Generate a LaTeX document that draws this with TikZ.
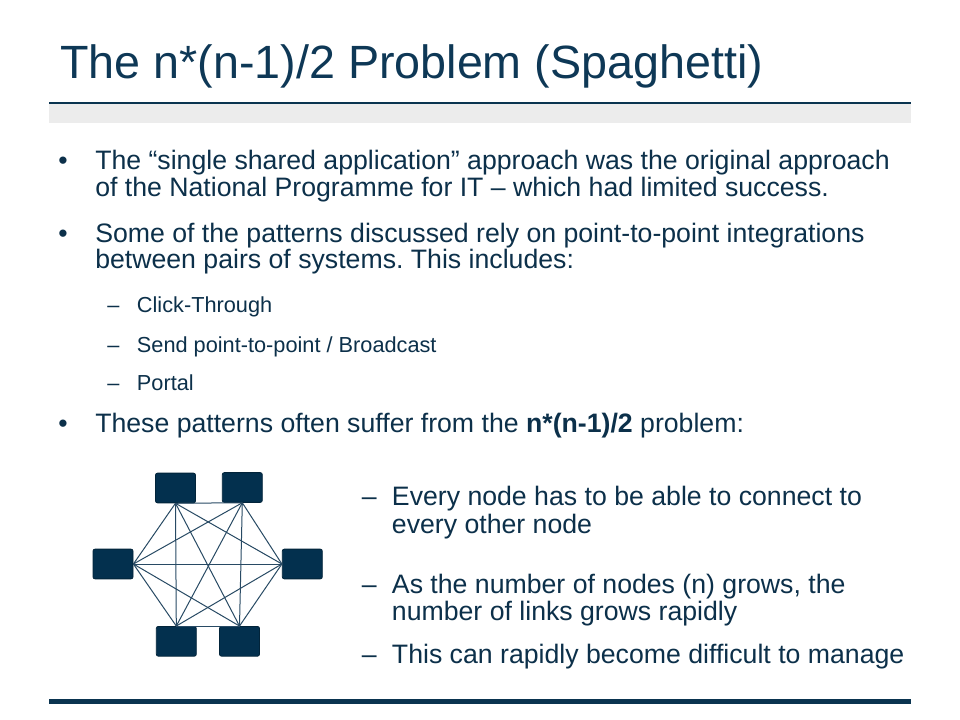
\documentclass[tikz,border=0pt]{standalone}
\usepackage{fontspec}
\setmainfont{Liberation Sans}
\frenchspacing
\definecolor{txt}{RGB}{12,48,74}
\definecolor{ttl}{RGB}{14,56,86}
\definecolor{boxc}{RGB}{3,48,78}
\definecolor{edgec}{RGB}{40,74,100}
\definecolor{band}{RGB}{236,236,236}
\definecolor{rule}{RGB}{10,52,80}
\begin{document}
\begin{tikzpicture}[x=0.75pt,y=-0.75pt,
  txtline/.style={anchor=base west, inner sep=0pt, text=txt, font=\fontsize{20}{24}\selectfont},
  subline/.style={anchor=base west, inner sep=0pt, text=txt, font=\fontsize{16.3}{20}\selectfont},
  sysbox/.style={draw=boxc!75!black, fill=boxc, rounded corners=1.5pt, minimum width=30pt, minimum height=22.3pt, inner sep=0pt, line width=0.6pt},
  link/.style={draw=edgec, line width=0.75pt}]
\useasboundingbox (0,0) rectangle (960,720);
\fill[white] (0,0) rectangle (960,720);
% header band and rules
\fill[band] (49,104) rectangle (911,123);
\fill[rule] (49,101.8) rectangle (911,104.3);
\fill[rule] (49,699) rectangle (911,704);
% title
\node[anchor=base west, inner sep=0pt, text=ttl, font=\fontsize{35}{40}\selectfont] (title) at (60,78.5) {The n*(n-1)/2 Problem (Spaghetti)};
% bullets
\node[txtline] (b1) at (58,170) {•};
\node[txtline] (l1a) at (95,170) {The “single shared application” approach was the original approach};
\node[txtline] (l1b) at (95,196.7) {of the National Programme for IT – which had limited success.};
\node[txtline] (b2) at (58,242.7) {•};
\node[txtline] (l2a) at (95,242.7) {Some of the patterns discussed rely on point-to-point integrations};
\node[txtline] (l2b) at (95,269) {between pairs of systems. This includes:};
\node[subline] (d1) at (107,312) {–};
\node[subline] (s1) at (136.7,312) {Click-Through};
\node[subline] (d2) at (107,352) {–};
\node[subline] (s2) at (136.7,352) {Send point-to-point / Broadcast};
\node[subline] (d3) at (107,390.7) {–};
\node[subline] (s3) at (136.7,390.7) {Portal};
\node[txtline] (b3) at (58,432.7) {•};
\node[txtline] (l3a) at (95,432.7) {These patterns often suffer from the \textbf{n*(n-1)/2} problem:};
% right-side list
\node[txtline] (r1d) at (361.5,505.7) {–};
\node[txtline] (r1a) at (391.7,505.7) {Every node has to be able to connect to};
\node[txtline] (r1b) at (391.7,533.3) {every other node};
\node[txtline] (r2d) at (361.5,593.3) {–};
\node[txtline] (r2a) at (391.7,593.3) {As the number of nodes (n) grows, the};
\node[txtline] (r2b) at (391.7,620) {number of links grows rapidly};
\node[txtline] (r3d) at (361.5,663.3) {–};
\node[txtline] (r3a) at (391.7,663.3) {This can rapidly become difficult to manage};
% system boxes
\node[sysbox] (A) at (175.5,488) {};
\node[sysbox] (B) at (242.3,487.5) {};
\node[sysbox] (C) at (113,564) {};
\node[sysbox] (D) at (302.3,564) {};
\node[sysbox] (E) at (176.3,641.3) {};
\node[sysbox] (F) at (239.5,641.3) {};
% links (complete graph)
\draw[link] (A.south) -- (B.south);
\draw[link] (A.south) -- (C.east);
\draw[link] (A.south) -- (D.west);
\draw[link] (A.south) -- (E.north);
\draw[link] (A.south) -- (F.north);
\draw[link] (B.south) -- (C.east);
\draw[link] (B.south) -- (D.west);
\draw[link] (B.south) -- (E.north);
\draw[link] (B.south) -- (F.north);
\draw[link] (C.east) -- (D.west);
\draw[link] (C.east) -- (E.north);
\draw[link] (C.east) -- (F.north);
\draw[link] (D.west) -- (E.north);
\draw[link] (D.west) -- (F.north);
\draw[link] (E.north) -- (F.north);
\end{tikzpicture}
\end{document}
